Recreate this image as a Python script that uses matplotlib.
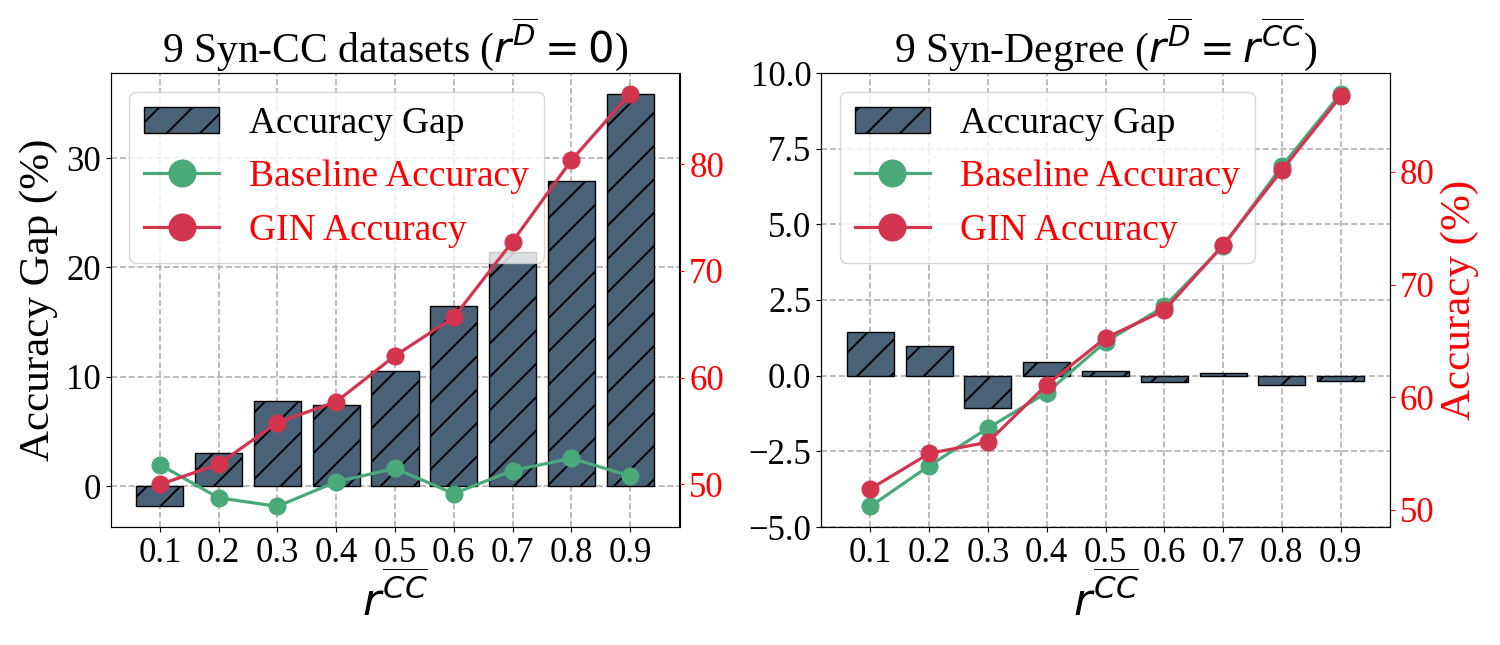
import numpy as np
import matplotlib
matplotlib.use("Agg")
import matplotlib.pyplot as plt

plt.rcParams['font.family'] = ['Liberation Serif', 'DejaVu Serif']
plt.rcParams['mathtext.fontset'] = 'dejavusans'
plt.rcParams['hatch.linewidth'] = 1.4

# x categories
r_cc = ['0.1', '0.2', '0.3', '0.4', '0.5', '0.6', '0.7', '0.8', '0.9']

# left: Syn-CC datasets
cc_gap = [-1.85, 3.05, 7.75, 7.4, 10.5, 16.45, 21.4, 27.9, 35.9]
cc_base = [51.85, 48.75, 47.95, 50.25, 51.5, 49.15, 51.3, 52.45, 50.8]
cc_gin = [50.0, 51.9, 55.8, 57.75, 62.05, 65.65, 72.75, 80.35, 86.6]

# right: Syn-Degree datasets
deg_gap = [1.45, 0.98, -1.07, 0.45, 0.16, -0.21, 0.09, -0.32, -0.18]
deg_base = [50.3, 53.9, 57.25, 60.4, 64.9, 68.05, 73.4, 80.5, 86.95]
deg_gin = [51.85, 55.0, 56.0, 61.1, 65.25, 67.7, 73.5, 80.15, 86.7]

bar_col = '#4a6278'
green = '#4aa97a'
red = '#d3344e'
tick_fs = 25
leg_fs = 27

fig = plt.figure(figsize=(15, 6.45), dpi=100)
ax_l = fig.add_axes([110.5 / 1500, 118 / 645, 569 / 1500, 454 / 645])
ax_r = fig.add_axes([821 / 1500, 118 / 645, 569 / 1500, 454 / 645])


def panel(ax, gap, base, gin, title, left_label, right_label):
    x = np.arange(len(r_cc))
    ax.set_axisbelow(True)
    ax.grid(True, linestyle='--', color='#b0b0b0', linewidth=1.2)
    bars = ax.bar(x, gap, width=0.8, color=bar_col, edgecolor='black',
                  linewidth=1.0, hatch='/', label='Accuracy Gap')
    ax.set_xticks(x)
    ax.set_xticklabels(r_cc)
    ax.tick_params(labelsize=tick_fs)
    ax.set_xlabel(r'$r^{\overline{CC}}$', fontsize=32, labelpad=2)
    ax.set_title(title, fontsize=30)
    if left_label:
        ax.set_ylabel('Accuracy Gap (%)', fontsize=31, labelpad=6)

    ax2 = ax.twinx()
    l1, = ax2.plot(x, base, '-o', color=green, lw=2.3, ms=12,
                   label='Baseline Accuracy')
    l2, = ax2.plot(x, gin, '-o', color=red, lw=2.3, ms=12,
                   label='GIN Accuracy')
    ax2.tick_params(axis='y', colors='red', labelsize=tick_fs)
    if right_label:
        ax2.set_ylabel('Accuracy (%)', color='red', fontsize=31)

    leg = ax.legend([bars, l1, l2], ['Accuracy Gap', 'Baseline Accuracy', 'GIN Accuracy'],
                    loc='upper left', fontsize=leg_fs, markerscale=1.6,
                    handlelength=2.0, framealpha=0.8)
    leg.get_texts()[1].set_color('red')
    leg.get_texts()[2].set_color('red')
    return ax2


panel(ax_l, cc_gap, cc_base, cc_gin,
      r'9 Syn-CC datasets ($r^{\overline{D}}=0$)', True, False)
panel(ax_r, deg_gap, deg_base, deg_gin,
      r'9 Syn-Degree ($r^{\overline{D}}=r^{\overline{CC}}$)', False, True)
ax_r.set_ylim(-5, 10)
ax_r.set_yticks([-5, -2.5, 0, 2.5, 5, 7.5, 10])
ax_r.set_yticklabels(['−5.0', '−2.5', '0.0', '2.5', '5.0', '7.5', '10.0'])

fig.savefig('out.png', dpi=100)
